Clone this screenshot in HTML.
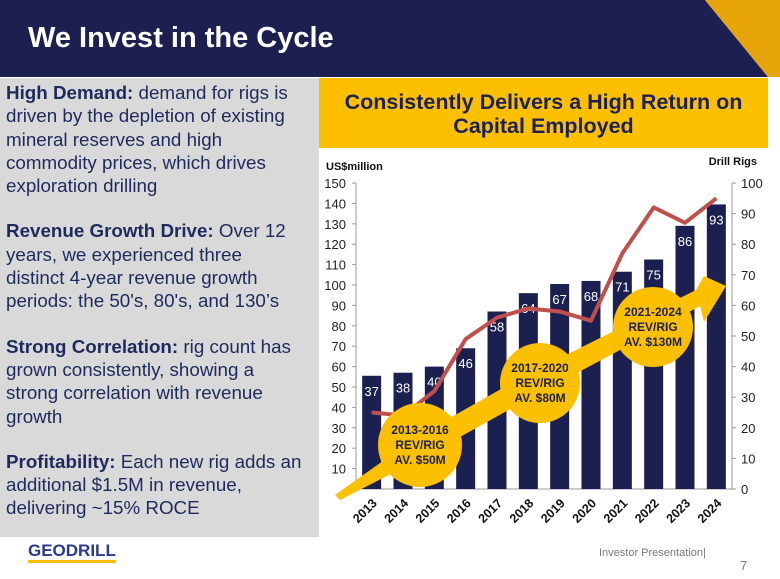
<!DOCTYPE html>
<html><head><meta charset="utf-8"><style>
body{margin:0;width:780px;height:579px;overflow:hidden;background:#fff;font-family:"Liberation Sans",sans-serif;position:relative}
.abs{position:absolute}
#left p{margin:0 0 22px 0;font-size:18.8px;line-height:23.3px;color:#1f2a5c;white-space:nowrap}
#left b{font-weight:bold}
</style></head><body>
<svg class="abs" style="left:0;top:0" width="780" height="78">
<polygon points="0,0 705,0 768,77 0,77" fill="#1c2050"/>
<polygon points="705,0 780,0 780,77 768,77" fill="#e8a50a"/>
</svg>
<div class="abs" style="left:28px;top:22px;font-size:29px;font-weight:bold;color:#fff">We Invest in the Cycle</div>
<div class="abs" id="left" style="left:0;top:78px;width:319px;height:459px;background:#d9d9d9;box-sizing:border-box;padding:3px 4px 0 6px">
<p><b>High Demand:</b> demand for rigs is<br>driven by the depletion of existing<br>mineral reserves and high<br>commodity prices, which drives<br>exploration drilling</p>
<p><b>Revenue Growth Drive:</b> Over 12<br>years, we experienced three<br>distinct 4-year revenue growth<br>periods: the 50's, 80's, and 130’s</p>
<p><b>Strong Correlation:</b> rig count has<br>grown consistently, showing a<br>strong correlation with revenue<br>growth</p>
<p><b>Profitability:</b> Each new rig adds an<br>additional $1.5M in revenue,<br>delivering ~15% ROCE</p>
</div>
<div class="abs" style="left:319px;top:78px;width:449px;height:70px;background:#fcc000;"></div>
<div class="abs" style="left:319px;top:90px;width:449px;color:#1c2050;font-weight:bold;font-size:21.5px;text-align:center;line-height:24px;white-space:nowrap">Consistently Delivers a High Return on<br>Capital Employed</div>
<svg class="abs" id="chart" style="left:0;top:0" width="780" height="579"></svg>
<div class="abs" style="left:28px;top:541px;font-size:17px;font-weight:bold;color:#2a3a8c;border-bottom:3px solid #fcc000;line-height:19px">GEODRILL</div>
<div class="abs" style="left:599px;top:547px;font-size:11px;color:#777">Investor Presentation|</div>
<div class="abs" style="left:740px;top:558px;font-size:13px;color:#777">7</div>
<script>
const years=["2013","2014","2015","2016","2017","2018","2019","2020","2021","2022","2023","2024"];
const revenue=[55.5,57,60,69,87,96,100.5,102,106.5,112.5,129,139.5];
const barLabels=["37","38","40","46","58","64","67","68","71","75","86","93"];
const rigs=[25,24,32,49,56,59,58,55,77,92,87,95];
const leftTicks=[0,10,20,30,40,50,60,70,80,90,100,110,120,130,140,150];
const rightTicks=[0,10,20,30,40,50,60,70,80,90,100];
const NS="http://www.w3.org/2000/svg";
const svg=document.getElementById('chart');
const X0=356,X1=732,Y0=489,Y1=183;
const yL=v=>Y0-(v/150)*(Y0-Y1);
const yR=v=>Y0-(v/100)*(Y0-Y1);
const step=(X1-X0)/years.length;
const xC=i=>X0+step*(i+0.5);
function mk(t,a,txt){const e=document.createElementNS(NS,t);for(const k in a)e.setAttribute(k,a[k]);if(txt!==undefined)e.textContent=txt;svg.appendChild(e);return e;}
let e;
e=mk('line',{x1:X0,y1:Y1,x2:X0,y2:Y0,stroke:'#999'});

e=mk('line',{x1:X1,y1:Y1,x2:X1,y2:Y0,stroke:'#999'});

e=mk('line',{x1:X0,y1:Y0,x2:X1,y2:Y0,stroke:'#999'});

leftTicks.forEach(v=>{mk('line',{x1:X0-4,y1:yL(v),x2:X0,y2:yL(v),stroke:'#999'});
e=mk('text',{x:X0-10,y:yL(v)+5,'text-anchor':'end','font-size':13,fill:'#222'},v===0?'-':v);
});
rightTicks.forEach(v=>{mk('line',{x1:X1,y1:yR(v),x2:X1+4,y2:yR(v),stroke:'#999'});
e=mk('text',{x:X1+9,y:yR(v)+5,'font-size':13,fill:'#222'},v);
});
e=mk('text',{x:326,y:170,'font-size':11,'font-weight':'bold',fill:'#111'},'US$million');

e=mk('text',{x:757,y:165,'font-size':11,'font-weight':'bold',fill:'#111','text-anchor':'end'},'Drill Rigs');

years.forEach((y,i)=>{
e=mk('rect',{x:xC(i)-9.5,y:yL(revenue[i]),width:19,height:Y0-yL(revenue[i]),fill:'#1c2050'});

e=mk('text',{x:xC(i),y:yL(revenue[i])+20,'text-anchor':'middle','font-size':13,fill:'#fff'},barLabels[i]);

e=mk('text',{x:0,y:0,'font-size':12.5,'font-weight':'bold',fill:'#111','text-anchor':'end',transform:`translate(${xC(i)+6},${Y0+15}) rotate(-45)`},y);

});
e=mk('polyline',{points:rigs.map((v,i)=>xC(i)+','+yR(v)).join(' '),fill:'none',stroke:'#c0504d','stroke-width':4,'stroke-linejoin':'round'});

e=mk('polygon',{points:'335,495 340,500 424,457 530,398 650,334 700,306 704,322 726,286 704,276 696,290 644,316 524,376 418,436',fill:'#fcc000'});

[[420,445,42,['2013-2016','REV/RIG','AV. $50M']],[540,383,40,['2017-2020','REV/RIG','AV. $80M']],[653,327,40,['2021-2024','REV/RIG','AV. $130M']]].forEach((c,k)=>{
e=mk('circle',{cx:c[0],cy:c[1],r:c[2],fill:'#fcc000'});

c[3].forEach((t,j)=>{e=mk('text',{x:c[0],y:c[1]-11+j*15,'text-anchor':'middle','font-size':12,'font-weight':'bold',fill:'#1c2050'},t);
});
});
</script>
</body></html>
